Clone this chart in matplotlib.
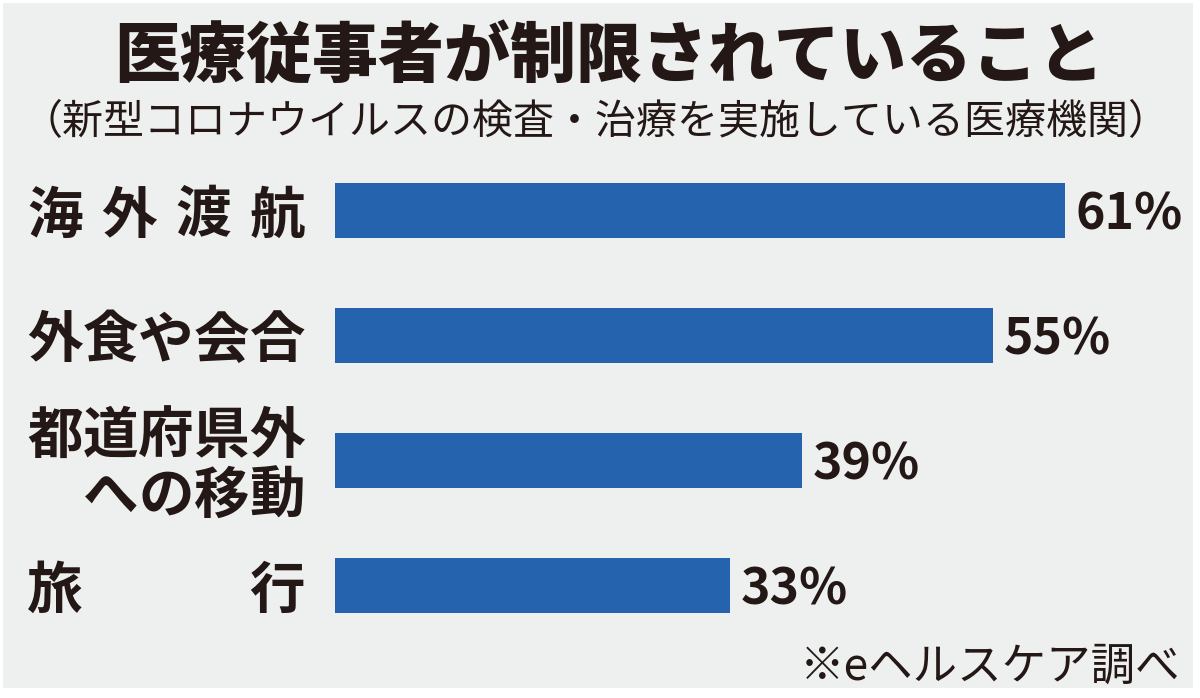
import matplotlib
matplotlib.use("Agg")
import matplotlib.pyplot as plt
import matplotlib.transforms as mtransforms
from matplotlib.patches import Rectangle

plt.rcParams['font.family'] = ['Noto Sans CJK JP', 'DejaVu Sans']

# ---- data ----
categories = ["海外渡航", "外食や会合", "都道府県外への移動", "旅行"]
values = [61, 55, 39, 33]
title = "医療従事者が制限されていること"
subtitle = "（新型コロナウイルスの検査・治療を実施している医療機関）"
source = "※eヘルスケア調べ"

W, H = 1200, 698
BG = "#eef0f0"
BAR = "#2563ae"
INK = "#231815"

fig = plt.figure(figsize=(W / 100, H / 100), dpi=100)
fig.patch.set_facecolor("white")
fig.patches.append(Rectangle((3 / W, 1 - 688 / H), 1190 / W, 685 / H,
                             transform=fig.transFigure, facecolor=BG,
                             edgecolor="none", zorder=-10))

def fx(px):
    return px / W

def fy(py):
    return 1 - py / H

# axes: x 0 at 335px, 11.97 px per percent
ax_left, ax_right = 335, 1185
ax_top, ax_bot = 148, 648
ax = fig.add_axes([fx(ax_left), fy(ax_bot), (ax_right - ax_left) / W, (ax_bot - ax_top) / H])
ax.set_facecolor("none")
ax.set_xlim(0, (ax_right - ax_left) / 11.97)
ax.set_ylim(len(categories) - 0.5, -0.5)
ax.axis("off")

ypos = list(range(len(categories)))
ax.barh(ypos, values, height=0.44, color=BAR, edgecolor="none")

for y, v in zip(ypos, values):
    ax.text(v + 0.9, y - 0.01, f"{v}%", ha="left", va="center_baseline", fontsize=36,
            fontweight="bold", color=INK)

# category labels, justified between x=27 and x=305
trans = mtransforms.blended_transform_factory(fig.transFigure, ax.transData)
L0, L1 = 27, 305
CH = 55.6  # character cell width in px
LFS = 40

def justified(text, y):
    n = len(text)
    if n == 1:
        centers = [(L0 + L1) / 2]
    else:
        first = L0 + CH / 2
        last = L1 - CH / 2
        centers = [first + (last - first) * i / (n - 1) for i in range(n)]
    for c, ch in zip(centers, text):
        fig.text(fx(c), y, ch, transform=trans, ha="center", va="center_baseline",
                 fontsize=LFS, fontweight="bold", color=INK)

def right_aligned(text, y):
    n = len(text)
    for i, ch in enumerate(text):
        c = L1 - CH / 2 - (n - 1 - i) * CH
        fig.text(fx(c), y, ch, transform=trans, ha="center", va="center_baseline",
                 fontsize=LFS, fontweight="bold", color=INK)

justified(categories[0], 0)
justified(categories[1], 1)
justified(categories[2][:5], 2 - 0.24)
right_aligned(categories[2][5:], 2 + 0.24)
justified(categories[3], 3)

fig.text(fx(609), fy(50), title, ha="center", va="center_baseline", fontsize=47.5,
         fontweight="heavy", color=INK)
fig.text(fx(596), fy(118), subtitle, ha="center", va="center_baseline", fontsize=29.5,
         color=INK)
fig.text(fx(1180), fy(662), source, ha="right", va="center_baseline", fontsize=32,
         color=INK)

fig.savefig("out.png", dpi=100, facecolor=fig.get_facecolor())
